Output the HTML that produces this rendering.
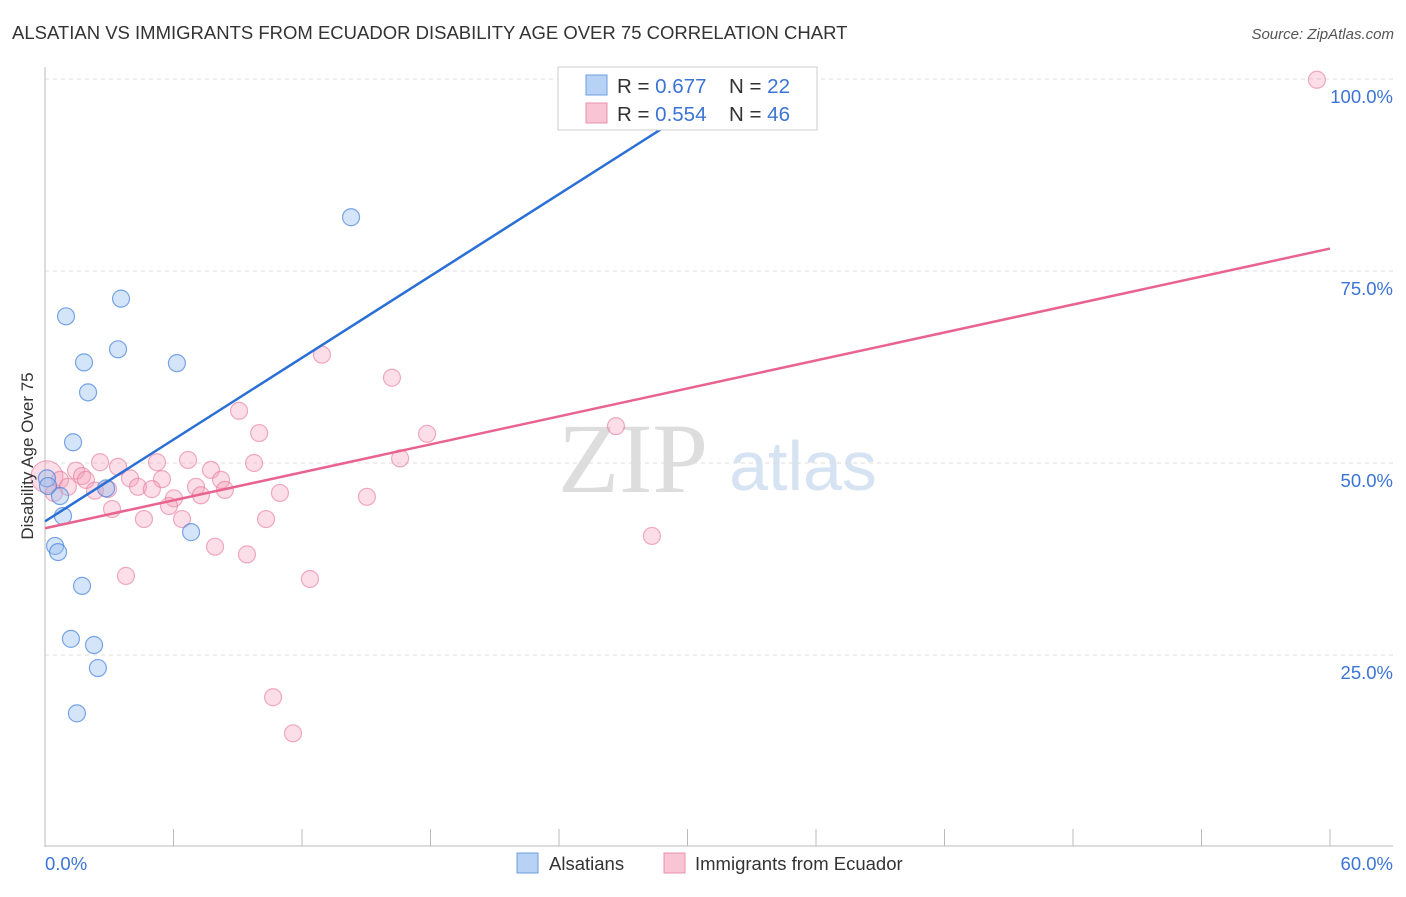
<!DOCTYPE html>
<html><head><meta charset="utf-8"><style>
body{margin:0;background:#fff;font-family:"Liberation Sans",sans-serif;}
svg text{font-family:"Liberation Sans",sans-serif;}
</style></head><body>
<svg width="1406" height="892" xmlns="http://www.w3.org/2000/svg">
<text x="12" y="39" font-size="18.5" fill="#333">ALSATIAN VS IMMIGRANTS FROM ECUADOR DISABILITY AGE OVER 75 CORRELATION CHART</text>
<text x="1394" y="39" font-size="15" fill="#555" font-style="italic" text-anchor="end">Source: ZipAtlas.com</text>
<text x="633" y="492" font-size="100" fill="#ddd" style="font-family:'Liberation Serif',serif" text-anchor="middle">ZIP</text>
<text x="803" y="490" font-size="70" fill="#d6e3f3" text-anchor="middle">atlas</text>
<g id="grid"></g><g id="axes"></g><g id="marks"></g>
<text transform="translate(33,456) rotate(-90)" font-size="17" fill="#333" text-anchor="middle">Disability Age Over 75</text>
<g>
<rect x="558" y="67" width="259" height="63" fill="#fff" stroke="#ccc"/>
<rect x="586" y="75" width="21" height="20" fill="#b7d2f5" stroke="#6d9fe0"/>
<rect x="586" y="103" width="21" height="20" fill="#f9c4d4" stroke="#e892ad"/>
<text x="617" y="93" font-size="20.5" fill="#333">R = <tspan fill="#3c74d6">0.677</tspan></text>
<text x="729" y="93" font-size="20.5" fill="#333">N = <tspan fill="#3c74d6">22</tspan></text>
<text x="617" y="121" font-size="20.5" fill="#333">R = <tspan fill="#3c74d6">0.554</tspan></text>
<text x="729" y="121" font-size="20.5" fill="#333">N = <tspan fill="#3c74d6">46</tspan></text>
</g>
<g>
<rect x="517" y="853" width="21" height="20" fill="#b7d2f5" stroke="#6d9fe0"/>
<text x="549" y="870" font-size="18.5" fill="#333">Alsatians</text>
<rect x="664" y="853" width="21" height="20" fill="#f9c4d4" stroke="#e892ad"/>
<text x="695" y="870" font-size="18.5" fill="#333">Immigrants from Ecuador</text>
</g>
</svg>
<script>
const yTicks=[25,50,75,100];
const yTickLabels=["25.0%","50.0%","75.0%","100.0%"];
const xLabels=["0.0%","60.0%"];
const blueX=[32.45,14.29,3.55,0.98,3.41,6.16,1.82,2.01,1.31,0.09,0.14,0.70,2.85,0.84,6.82,0.47,0.61,1.73,1.21,2.29,2.47,1.49];
const blueY=[100,82.0,71.4,69.1,64.8,63.0,63.1,59.2,52.7,48.0,47.0,45.7,46.7,43.1,41.0,39.2,38.4,34.0,27.1,26.3,23.3,17.4];
const pinkX=[59.39,12.93,16.20,9.06,26.66,10.0,17.84,16.58,2.57,5.23,6.68,9.76,3.41,7.75,1.45,1.73,0.09,0.70,1.91,3.97,5.46,8.22,1.07,4.34,4.99,7.05,8.40,2.94,2.33,10.97,7.28,6.02,15.03,0.42,3.13,5.79,4.62,6.40,10.32,28.34,7.94,9.43,3.78,12.37,10.65,11.58];
const pinkY=[99.9,64.1,61.1,56.8,54.8,53.9,53.8,50.6,50.1,50.1,50.4,50.0,49.5,49.1,49.0,48.3,48.2,47.8,47.8,48.0,47.9,47.8,46.9,46.9,46.6,46.9,46.5,46.6,46.4,46.1,45.8,45.4,45.6,46.1,44.0,44.4,42.7,42.7,42.7,40.5,39.1,38.1,35.3,34.9,19.5,14.8];
const blueTrend=[42.4,1.775];
const pinkTrend=[41.5,0.607];
const NS="http://www.w3.org/2000/svg";
const sx=v=>45+v/60*1285, sy=v=>847-v/100*768;
function mk(t,a,p){const e=document.createElementNS(NS,t);for(const k in a)e.setAttribute(k,a[k]);document.getElementById(p).appendChild(e);return e;}
yTicks.forEach((t,i)=>{
 const l=mk('line',{x1:45,x2:1393,y1:sy(t),y2:sy(t),stroke:'#ddd','stroke-dasharray':'4,4'},'grid');
 
 
 const tx=mk('text',{x:1393,y:sy(t)+24,'font-size':18.5,fill:'#3c74d6','text-anchor':'end'},'axes');
 tx.textContent=yTickLabels[i];
 
 
});
mk('line',{x1:45,x2:45,y1:67,y2:847,stroke:'#bbb'},'axes');
mk('line',{x1:45,x2:1393,y1:846,y2:846,stroke:'#bbb'},'axes');
for(let i=0;i<=10;i++){const x=sx(i*6);mk('line',{x1:x,x2:x,y1:829,y2:846,stroke:'#bbb'},'axes');}
const xl0=mk('text',{x:45,y:870,'font-size':18.5,fill:'#3c74d6'},'axes');xl0.textContent=xLabels[0];


const xl1=mk('text',{x:1393,y:870,'font-size':18.5,fill:'#3c74d6','text-anchor':'end'},'axes');xl1.textContent=xLabels[1];


pinkX.forEach((x,i)=>{
 const c=mk('circle',{cx:sx(x),cy:sy(pinkY[i]),r:i==16?16:8.5,fill:'rgba(244,160,186,0.35)',stroke:'rgba(230,120,155,0.6)','stroke-width':1.2},'marks');
 
 
});
blueX.forEach((x,i)=>{
 const c=mk('circle',{cx:sx(x),cy:sy(blueY[i]),r:8.5,fill:'rgba(150,190,240,0.4)',stroke:'rgba(70,130,220,0.7)','stroke-width':1.2},'marks');
 
 
});
const bEnd=(100-blueTrend[0])/blueTrend[1];
const bl=mk('line',{x1:sx(0),y1:sy(blueTrend[0]),x2:sx(bEnd),y2:sy(100),stroke:'#2a6fd6','stroke-width':2.5},'marks');


const pl=mk('line',{x1:sx(0),y1:sy(pinkTrend[0]),x2:sx(60),y2:sy(pinkTrend[0]+60*pinkTrend[1]),stroke:'#e8648f','stroke-width':2.5},'marks');


</script>
</body></html>
